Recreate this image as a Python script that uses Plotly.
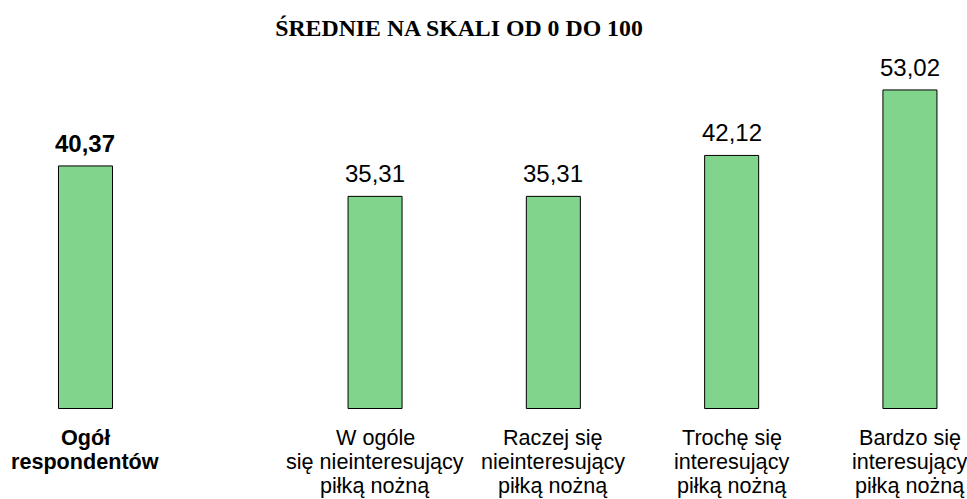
import plotly.graph_objects as go

categories = [
    "<b>Ogół<br>respondentów</b>",
    "W ogóle<br>się nieinteresujący<br>piłką nożną",
    "Raczej się<br>nieinteresujący<br>piłką nożną",
    "Trochę się<br>interesujący<br>piłką nożną",
    "Bardzo się<br>interesujący<br>piłką nożną",
]
values = [40.37, 35.31, 35.31, 42.12, 53.02]
slot_positions = [0, 1.624, 2.624, 3.624, 4.624]
title_text = "ŚREDNIE NA SKALI OD 0 DO 100"

def fmt(v):
    return f"{v:.2f}".replace(".", ",")

fig = go.Figure()
fig.add_trace(go.Bar(
    x=slot_positions, y=values, width=0.303,
    marker=dict(color="#80D48B", line=dict(color="#000000", width=1)),
    hoverinfo="skip",
))

annotations = []
for i, (xp, v, c) in enumerate(zip(slot_positions, values, categories)):
    t = fmt(v)
    bold = i == 0
    if bold:
        t = f"<b>{t}</b>"
    annotations.append(dict(
        x=xp, y=v, xref="x", yref="y", text=t, showarrow=False,
        yanchor="bottom", xanchor="center", yshift=7,
        font=dict(family="Liberation Sans, Arial", size=24, color="#000000"),
    ))
    lines = c.replace("<b>", "").replace("</b>", "").split("<br>")
    for j, ln in enumerate(lines):
        annotations.append(dict(
            x=xp, y=0, xref="x", yref="y",
            text=f"<b>{ln}</b>" if bold else ln, showarrow=False,
            yanchor="middle", xanchor="center", yshift=-(28.5 + 24 * j),
            font=dict(family="Liberation Sans, Arial", size=21.6, color="#000000"),
        ))

fig.update_layout(
    width=967, height=499,
    margin=dict(l=0, r=0, t=0, b=0),
    paper_bgcolor="#FFFFFF", plot_bgcolor="#FFFFFF",
    showlegend=False,
    title=dict(
        text=f"<b>{title_text}</b>", x=459/967, xanchor="center",
        y=1 - 27.5/499, yanchor="middle", yref="container",
        font=dict(family="Liberation Serif, Times New Roman", size=23.8, color="#000000"),
    ),
    xaxis=dict(range=[-0.4795, 4.944], visible=False, fixedrange=True),
    yaxis=dict(range=[-15.06, 67.99], visible=False, fixedrange=True),
    annotations=annotations,
)

fig.write_html(
    "out.html",
    config={"displayModeBar": False, "staticPlot": True},
    post_script="document.body.style.margin='0';document.body.style.overflow='hidden';",
)
